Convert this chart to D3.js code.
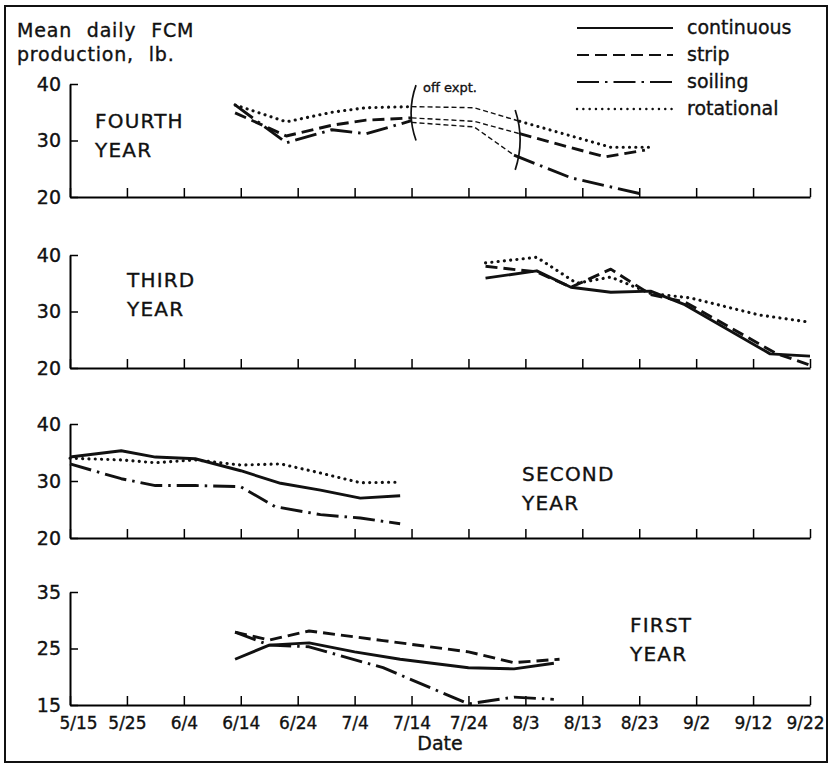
<!DOCTYPE html>
<html>
<head>
<meta charset="utf-8">
<script src="https://cdn.jsdelivr.net/npm/d3@7"></script>
<style>
  body { margin: 0; background: #fff; }
  svg text { font-family: "DejaVu Sans", sans-serif; fill: #111; stroke: #111; stroke-width: 0.35px; }
</style>
</head>
<body>
<svg id="chart" width="832" height="768"></svg>
<script>
// tick labels along the date axis
const tickDates = ["5/15", "5/25", "6/4", "6/14", "6/24", "7/4", "7/14", "7/24", "8/3", "8/13", "8/23", "9/2", "9/12", "9/22"];
const seriesNames = ["continuous", "strip", "soiling", "rotational"];

// FOURTH YEAR (no continuous group)
const fourthStrip = [["6/13", 34.9], ["6/22", 30.8], ["6/30", 32.7], ["7/6", 33.6], ["7/14", 34.0]];
const fourthStripLate = [["8/2", 31.2], ["8/17", 27.1], ["8/24", 28.3]];
const fourthStripOff = [["7/14", 34.0], ["7/25", 33.4], ["8/2", 31.2]];
const fourthSoiling = [["6/13", 36.3], ["6/22", 29.6], ["6/30", 31.9], ["7/6", 31.2], ["7/14", 33.5]];
const fourthSoilingLate = [["8/1", 27.4], ["8/11", 23.4], ["8/24", 20.4]];
const fourthSoilingOff = [["7/14", 33.2], ["7/25", 32.4], ["8/1", 27.4]];
const fourthRotational = [["6/13", 36.3], ["6/22", 33.3], ["6/30", 35.0], ["7/6", 35.8], ["7/14", 36.0]];
const fourthRotationalLate = [["8/2", 33.4], ["8/18", 28.8], ["8/25", 28.8]];
const fourthRotationalOff = [["7/14", 36.0], ["7/25", 35.8], ["8/2", 33.4]];
// "off expt." brackets: date, top value, bottom value
const offBrackets = [["7/14", 39.8, 30.0], ["8/2", 35.4, 24.8]];

// THIRD YEAR
const thirdContinuous = [["7/27", 35.9], ["8/5", 37.2], ["8/11", 34.3], ["8/18", 33.4], ["8/25", 33.6], ["8/31", 31.2], ["9/15", 22.5], ["9/22", 22.1]];
const thirdStrip = [["7/27", 38.0], ["8/5", 37.0], ["8/11", 34.3], ["8/18", 37.5], ["8/25", 33.0], ["8/31", 31.7], ["9/16", 22.6], ["9/22", 20.5]];
const thirdRotational = [["7/27", 38.6], ["8/5", 39.6], ["8/12", 35.0], ["8/18", 36.1], ["8/25", 33.2], ["9/1", 32.4], ["9/13", 29.4], ["9/22", 28.1]];

// SECOND YEAR (no strip group)
const secondContinuous = [["5/15", 34.2], ["5/24", 35.3], ["5/30", 34.2], ["6/6", 33.9], ["6/14", 31.8], ["6/21", 29.6], ["6/28", 28.4], ["7/5", 27.0], ["7/12", 27.4]];
const secondSoiling = [["5/15", 33.0], ["5/24", 30.4], ["5/30", 29.2], ["6/6", 29.2], ["6/14", 29.0], ["6/20", 25.5], ["6/28", 24.1], ["7/5", 23.5], ["7/12", 22.5]];
const secondRotational = [["5/15", 34.0], ["5/24", 33.7], ["5/30", 33.2], ["6/6", 33.7], ["6/14", 32.8], ["6/21", 33.0], ["6/28", 31.4], ["7/5", 29.7], ["7/12", 29.8]];

// FIRST YEAR
const firstContinuous = [["6/13", 23.1], ["6/19", 25.6], ["6/26", 26.0], ["7/4", 24.4], ["7/12", 23.1], ["7/24", 21.6], ["8/1", 21.4], ["8/8", 22.4]];
const firstStrip = [["6/13", 27.9], ["6/19", 26.5], ["6/26", 28.1], ["7/9", 26.4], ["7/24", 24.4], ["8/1", 22.5], ["8/9", 23.1]];
const firstSoiling = [["6/13", 27.9], ["6/19", 25.6], ["6/26", 25.3], ["7/9", 21.6], ["7/24", 15.2], ["8/1", 16.4], ["8/8", 16.0]];

const parseDate = d3.timeParse("%m/%d");

const svg = d3.select("#chart");

// outer frame
svg.append("rect")
  .attr("x", 5).attr("y", 6)
  .attr("width", 822).attr("height", 756)
  .attr("fill", "none")
  .attr("stroke", "#111")
  .attr("stroke-width", 2);

const x = d3.scaleTime()
  .domain([parseDate("5/15"), parseDate("9/22")])
  .range([70, 810]);

// line styles per group
const styles = {
  continuous: {dash: null, width: 2.9, cap: "butt"},
  strip: {dash: "12,6", width: 2.9, cap: "butt"},
  soiling: {dash: "22,6,2.5,6", width: 2.9, cap: "butt"},
  rotational: {dash: "0.1,6.2", width: 3.1, cap: "round"}
};

const panels = [
  {name: ["FOURTH", "YEAR"], lx: 95, ly: 128, domain: [20, 40], ticks: [20, 30, 40], top: 84, bottom: 197,
   series: [["strip", fourthStrip], ["strip", fourthStripLate], ["soiling", fourthSoiling], ["soiling", fourthSoilingLate],
            ["rotational", fourthRotational], ["rotational", fourthRotationalLate]],
   off: [fourthRotationalOff, fourthStripOff, fourthSoilingOff]},
  {name: ["THIRD", "YEAR"], lx: 127, ly: 287, domain: [20, 40], ticks: [20, 30, 40], top: 255, bottom: 368,
   series: [["continuous", thirdContinuous], ["strip", thirdStrip], ["rotational", thirdRotational]]},
  {name: ["SECOND", "YEAR"], lx: 522, ly: 481, domain: [20, 40], ticks: [20, 30, 40], top: 424, bottom: 538,
   series: [["continuous", secondContinuous], ["soiling", secondSoiling], ["rotational", secondRotational]]},
  {name: ["FIRST", "YEAR"], lx: 630, ly: 632, domain: [15, 35], ticks: [15, 25, 35], top: 592, bottom: 705,
   series: [["continuous", firstContinuous], ["strip", firstStrip], ["soiling", firstSoiling]]}
];

panels.forEach((p, i) => {
  const y = d3.scaleLinear().domain(p.domain).range([p.bottom, p.top]);
  const g = svg.append("g").attr("class", "panel");
  const last = i === panels.length - 1;

  const xAxis = g.append("g")
    .attr("transform", `translate(0,${p.bottom})`)
    .call(d3.axisBottom(x)
      .tickValues(tickDates.map(parseDate))
      .tickSizeInner(-9)
      .tickSizeOuter(0)
      .tickPadding(12)
      .tickFormat((d, j) => last ? tickDates[j] : ""));
  xAxis.select(".domain").attr("stroke-width", 2);
  xAxis.selectAll(".tick line").attr("stroke-width", 1.5);
  xAxis.selectAll(".tick text")
    .attr("font-size", 17)
    .attr("font-family", "DejaVu Sans")
    .attr("fill", "#111");
  xAxis.selectAll(".tick").filter((d, j) => j === 0).select("text").attr("dx", 8);
  xAxis.selectAll(".tick").filter((d, j) => j === tickDates.length - 1).select("text").attr("dx", -5);

  const yAxis = g.append("g")
    .attr("transform", "translate(70,0)")
    .call(d3.axisLeft(y)
      .tickValues(p.ticks)
      .tickSizeInner(-8)
      .tickSizeOuter(0)
      .tickPadding(9));
  yAxis.select(".domain").attr("stroke-width", 2);
  yAxis.selectAll(".tick line").attr("stroke-width", 1.5);
  yAxis.selectAll(".tick text")
    .attr("font-size", 19)
    .attr("font-family", "DejaVu Sans")
    .attr("fill", "#111");

  g.selectAll("text.year")
    .data(p.name)
    .enter()
    .append("text")
    .attr("class", "year")
    .attr("x", p.lx)
    .attr("y", (d, j) => p.ly + j * 29)
    .attr("font-size", 20)
    .attr("letter-spacing", 1.2)
    .text(d => d);

  const line = d3.line()
    .x(d => x(parseDate(d[0])))
    .y(d => y(d[1]));

  if (p.off) {
    g.selectAll("path.off")
      .data(p.off)
      .enter()
      .append("path")
      .attr("class", "off")
      .attr("d", line)
      .attr("fill", "none")
      .attr("stroke", "#111")
      .attr("stroke-width", 1.4)
      .attr("stroke-dasharray", "5,3");

    g.selectAll("path.bracket")
      .data(offBrackets)
      .enter()
      .append("path")
      .attr("class", "bracket")
      .attr("d", (d, j) => {
        const bx = x(parseDate(d[0]));
        const y0 = y(d[1]), y1 = y(d[2]);
        const bend = j === 0 ? 9 : -9;
        return `M${bx + bend * 0.5},${y0} Q${bx - bend * 0.6},${(y0 + y1) / 2} ${bx + bend * 0.5},${y1}`;
      })
      .attr("fill", "none")
      .attr("stroke", "#111")
      .attr("stroke-width", 1.7);

    g.append("text")
      .attr("x", x(parseDate("7/16")))
      .attr("y", y(38.6))
      .attr("font-size", 13)
      .text("off expt.");
  }

  g.selectAll("path.series")
    .data(p.series)
    .enter()
    .append("path")
    .attr("class", "series")
    .attr("d", d => line(d[1]))
    .attr("fill", "none")
    .attr("stroke", "#111")
    .attr("stroke-width", d => styles[d[0]].width)
    .attr("stroke-linecap", d => styles[d[0]].cap)
    .attr("stroke-linejoin", "round")
    .attr("stroke-dasharray", d => styles[d[0]].dash);
});

// axis titles
svg.selectAll("text.ytitle")
  .data(["Mean daily FCM", "production, lb."])
  .enter()
  .append("text")
  .attr("class", "ytitle")
  .attr("x", 17)
  .attr("y", (d, i) => 37 + i * 24)
  .attr("font-size", 19)
  .attr("letter-spacing", 0.8)
  .attr("word-spacing", 8)
  .text(d => d);

svg.append("text")
  .attr("x", 440)
  .attr("y", 750)
  .attr("text-anchor", "middle")
  .attr("font-size", 19)
  .text("Date");

// legend
const legend = svg.append("g").attr("transform", "translate(577,0)");
legend.selectAll("line")
  .data(seriesNames)
  .enter()
  .append("line")
  .attr("x1", 0).attr("x2", 96)
  .attr("y1", (d, i) => 28 + i * 27)
  .attr("y2", (d, i) => 28 + i * 27)
  .attr("stroke", "#111")
  .attr("stroke-width", d => styles[d].width - 0.7)
  .attr("stroke-linecap", d => styles[d].cap)
  .attr("stroke-dasharray", d => styles[d].dash);
legend.selectAll("text")
  .data(seriesNames)
  .enter()
  .append("text")
  .attr("x", 110)
  .attr("y", (d, i) => 28 + i * 27)
  .attr("dy", "0.32em")
  .attr("font-size", 19)
  .text(d => d);
</script>
</body>
</html>
